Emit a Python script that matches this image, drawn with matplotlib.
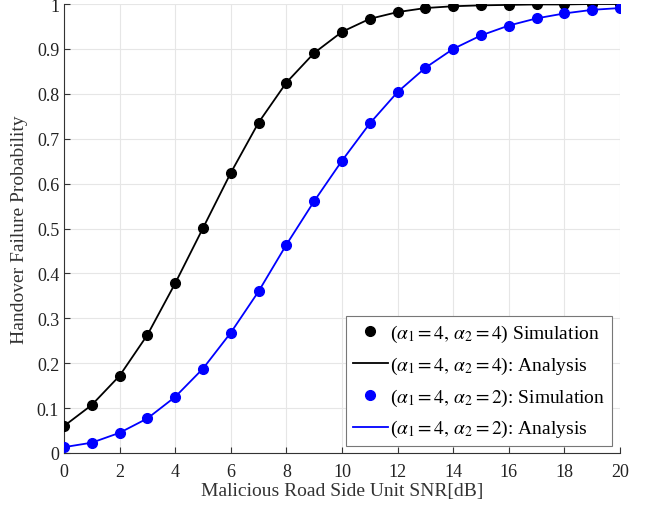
import numpy as np
import matplotlib
matplotlib.use("Agg")
import matplotlib.pyplot as plt

plt.rcParams['font.family'] = ['Liberation Serif', 'DejaVu Serif']
plt.rcParams['mathtext.fontset'] = 'stix'

snr_db = np.arange(0, 21)

# alpha1 = 4, alpha2 = 4
p_fail_44 = [0.060, 0.107, 0.172, 0.263, 0.378, 0.501, 0.624, 0.736, 0.825, 0.891,
             0.938, 0.967, 0.982, 0.991, 0.995, 0.997, 0.998, 0.999, 0.999, 1.000, 1.000]
# alpha1 = 4, alpha2 = 2
p_fail_42 = [0.013, 0.023, 0.045, 0.077, 0.125, 0.188, 0.268, 0.360, 0.464, 0.561,
             0.651, 0.734, 0.804, 0.858, 0.900, 0.930, 0.952, 0.968, 0.979, 0.987, 0.991]

labels = [r'($\alpha_1 = 4,\, \alpha_2 = 4$) Simulation',
          r'($\alpha_1 = 4,\, \alpha_2 = 4$): Analysis',
          r'($\alpha_1 = 4,\, \alpha_2 = 2$): Simulation',
          r'($\alpha_1 = 4,\, \alpha_2 = 2$): Analysis']

fig = plt.figure(figsize=(6.53, 5.06), dpi=100)
ax = fig.add_axes([64 / 653, 52 / 506, 556 / 653, 449 / 506])

ax.plot(snr_db, p_fail_44, 'o', color='black', markersize=7, label=labels[0], zorder=3)
ax.plot(snr_db, p_fail_44, '-', color='black', lw=1.3, label=labels[1])
ax.plot(snr_db, p_fail_42, 'o', color='#0000ff', markersize=7, label=labels[2], zorder=3)
ax.plot(snr_db, p_fail_42, '-', color='#0000ff', lw=1.3, label=labels[3])

ax.set_xlim(0, 20)
ax.set_ylim(0, 1)
ax.set_xticks(np.arange(0, 21, 2))
ax.set_yticks(np.arange(0, 1.01, 0.1))
ax.set_yticklabels(['0', '0.1', '0.2', '0.3', '0.4', '0.5', '0.6', '0.7', '0.8', '0.9', '1'])
ax.grid(True, color='#e6e6e6', lw=0.8)
ax.set_axisbelow(True)
ax.spines['top'].set_visible(False)
ax.spines['right'].set_visible(False)
ax.spines['left'].set_color('#333333')
ax.spines['bottom'].set_color('#333333')
ax.tick_params(direction='in', length=4, labelsize=13, colors='#333333', labelcolor='#222222')
ax.tick_params(axis='x', pad=7)

ax.set_xlabel('Malicious Road Side Unit SNR[dB]', fontsize=14, color='#333333', labelpad=2)
ax.set_ylabel('Handover Failure Probability', fontsize=14, color='#333333', labelpad=6)

leg = ax.legend(loc='lower right', bbox_to_anchor=(0.985, 0.015), fontsize=14,
                handlelength=1.8, handletextpad=0.1, borderpad=0.35, labelspacing=0.55,
                fancybox=False, framealpha=1, borderaxespad=0)
leg.get_frame().set_edgecolor('#777777')
leg.get_frame().set_linewidth(0.8)

fig.savefig('out.png', dpi=100)
